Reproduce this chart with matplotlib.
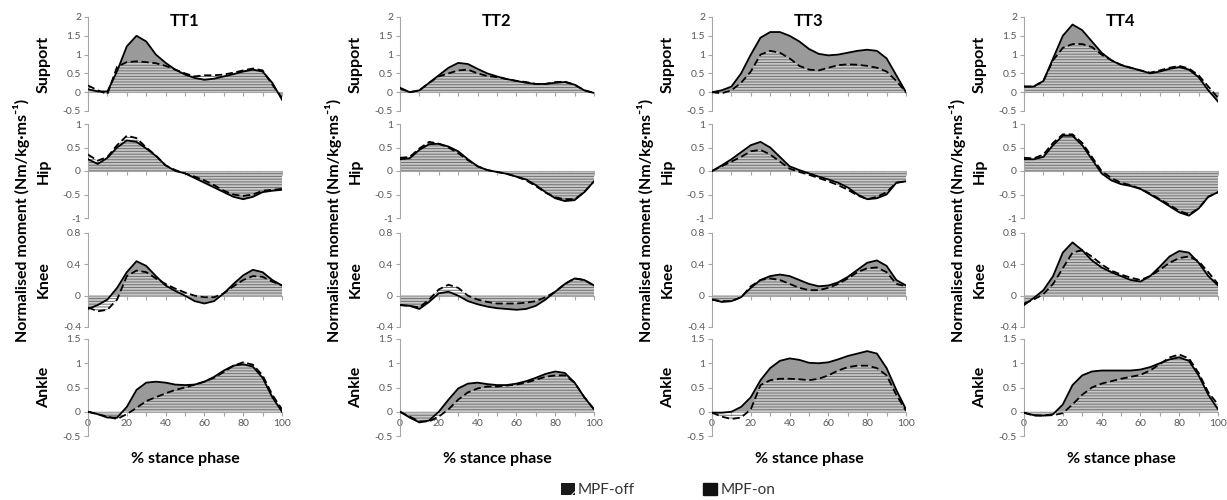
import numpy as np
import matplotlib
matplotlib.use("Agg")
from matplotlib import pyplot as plt
from matplotlib.patches import Patch

plt.rcParams['font.family'] = ['Lato', 'DejaVu Sans']
plt.rcParams['hatch.linewidth'] = 0.7

# % stance phase
pct = [0, 5, 10, 15, 20, 25, 30, 35, 40, 45, 50, 55, 60, 65, 70, 75, 80, 85, 90, 95, 100]

# TT1
tt1_support_on = [0.08, 0.02, 0.02, 0.56, 1.22, 1.50, 1.35, 1.00, 0.78, 0.60, 0.47, 0.38, 0.33, 0.36, 0.42, 0.48, 0.55, 0.60, 0.55, 0.25, -0.20]
tt1_support_off = [0.18, 0.05, -0.05, 0.68, 0.80, 0.82, 0.80, 0.77, 0.70, 0.60, 0.50, 0.42, 0.45, 0.45, 0.47, 0.52, 0.58, 0.63, 0.58, 0.20, -0.15]
tt1_hip_on = [0.25, 0.15, 0.28, 0.50, 0.65, 0.62, 0.48, 0.32, 0.12, 0.00, -0.05, -0.15, -0.25, -0.35, -0.45, -0.55, -0.60, -0.55, -0.45, -0.42, -0.40]
tt1_hip_off = [0.35, 0.22, 0.30, 0.55, 0.75, 0.70, 0.50, 0.33, 0.12, 0.02, -0.05, -0.12, -0.20, -0.30, -0.42, -0.50, -0.53, -0.50, -0.42, -0.40, -0.38]
tt1_knee_on = [-0.17, -0.12, -0.05, 0.10, 0.30, 0.44, 0.38, 0.25, 0.13, 0.06, 0.00, -0.07, -0.10, -0.07, 0.03, 0.15, 0.26, 0.33, 0.30, 0.20, 0.13]
tt1_knee_off = [-0.15, -0.20, -0.18, -0.05, 0.25, 0.32, 0.30, 0.22, 0.15, 0.09, 0.04, 0.00, -0.02, -0.02, 0.03, 0.12, 0.20, 0.25, 0.24, 0.18, 0.13]
tt1_ankle_on = [0.00, -0.05, -0.12, -0.12, 0.10, 0.45, 0.60, 0.62, 0.60, 0.56, 0.55, 0.56, 0.62, 0.72, 0.85, 0.95, 0.98, 0.93, 0.70, 0.30, 0.00]
tt1_ankle_off = [0.00, -0.05, -0.10, -0.15, -0.05, 0.08, 0.22, 0.30, 0.38, 0.45, 0.50, 0.56, 0.62, 0.70, 0.82, 0.95, 1.02, 0.97, 0.75, 0.35, 0.05]

# TT2
tt2_support_on = [0.12, 0.00, 0.05, 0.25, 0.45, 0.65, 0.78, 0.75, 0.62, 0.50, 0.42, 0.35, 0.30, 0.25, 0.22, 0.22, 0.25, 0.27, 0.20, 0.05, -0.02]
tt2_support_off = [0.10, 0.00, 0.05, 0.25, 0.42, 0.50, 0.58, 0.60, 0.50, 0.43, 0.40, 0.35, 0.30, 0.27, 0.22, 0.22, 0.27, 0.28, 0.20, 0.05, -0.02]
tt2_hip_on = [0.25, 0.27, 0.45, 0.57, 0.58, 0.52, 0.42, 0.25, 0.10, 0.02, -0.02, -0.06, -0.12, -0.18, -0.30, -0.45, -0.58, -0.64, -0.62, -0.45, -0.22]
tt2_hip_off = [0.28, 0.30, 0.48, 0.62, 0.58, 0.50, 0.38, 0.23, 0.10, 0.02, -0.02, -0.06, -0.12, -0.20, -0.32, -0.46, -0.56, -0.60, -0.60, -0.45, -0.22]
tt2_knee_on = [-0.12, -0.13, -0.17, -0.08, 0.03, 0.05, 0.00, -0.07, -0.11, -0.14, -0.16, -0.17, -0.18, -0.17, -0.13, -0.05, 0.05, 0.15, 0.22, 0.20, 0.13]
tt2_knee_off = [-0.12, -0.13, -0.15, -0.05, 0.08, 0.14, 0.10, 0.00, -0.05, -0.08, -0.10, -0.10, -0.10, -0.09, -0.07, -0.02, 0.05, 0.15, 0.22, 0.20, 0.13]
tt2_ankle_on = [0.00, -0.12, -0.22, -0.18, 0.00, 0.25, 0.48, 0.58, 0.60, 0.57, 0.55, 0.55, 0.58, 0.63, 0.70, 0.78, 0.83, 0.80, 0.60, 0.30, 0.05]
tt2_ankle_off = [0.00, -0.10, -0.20, -0.20, -0.10, 0.05, 0.25, 0.40, 0.48, 0.52, 0.52, 0.54, 0.56, 0.60, 0.66, 0.72, 0.75, 0.75, 0.60, 0.30, 0.05]

# TT3
tt3_support_on = [0.00, 0.05, 0.15, 0.50, 1.00, 1.45, 1.60, 1.60, 1.50, 1.35, 1.15, 1.02, 0.98, 1.00, 1.05, 1.10, 1.13, 1.10, 0.90, 0.45, 0.00]
tt3_support_off = [0.00, -0.03, 0.05, 0.25, 0.55, 1.00, 1.10, 1.05, 0.90, 0.70, 0.60, 0.58, 0.65, 0.72, 0.74, 0.73, 0.70, 0.65, 0.55, 0.30, 0.00]
tt3_hip_on = [0.00, 0.12, 0.25, 0.40, 0.55, 0.62, 0.50, 0.30, 0.10, 0.02, -0.05, -0.12, -0.18, -0.25, -0.35, -0.50, -0.60, -0.58, -0.50, -0.25, -0.22]
tt3_hip_off = [0.00, 0.10, 0.20, 0.30, 0.42, 0.45, 0.35, 0.20, 0.05, -0.02, -0.08, -0.15, -0.22, -0.30, -0.40, -0.52, -0.60, -0.55, -0.45, -0.25, -0.22]
tt3_knee_on = [-0.05, -0.08, -0.07, -0.02, 0.10, 0.20, 0.25, 0.27, 0.25, 0.20, 0.15, 0.12, 0.13, 0.17, 0.24, 0.33, 0.42, 0.45, 0.38, 0.20, 0.13]
tt3_knee_off = [-0.05, -0.07, -0.07, -0.02, 0.12, 0.20, 0.22, 0.20, 0.15, 0.10, 0.07, 0.07, 0.10, 0.15, 0.22, 0.30, 0.35, 0.36, 0.30, 0.15, 0.12]
tt3_ankle_on = [-0.02, -0.02, 0.00, 0.10, 0.30, 0.65, 0.90, 1.05, 1.10, 1.07, 1.01, 1.00, 1.02, 1.08, 1.15, 1.20, 1.25, 1.20, 0.90, 0.45, 0.05]
tt3_ankle_off = [-0.02, -0.10, -0.15, -0.12, 0.05, 0.55, 0.65, 0.68, 0.68, 0.67, 0.65, 0.68, 0.75, 0.85, 0.92, 0.95, 0.95, 0.90, 0.75, 0.35, 0.02]

# TT4
tt4_support_on = [0.15, 0.15, 0.30, 0.90, 1.50, 1.80, 1.65, 1.35, 1.05, 0.85, 0.72, 0.65, 0.58, 0.50, 0.55, 0.62, 0.67, 0.60, 0.40, 0.05, -0.25]
tt4_support_off = [0.15, 0.15, 0.30, 0.85, 1.18, 1.28, 1.28, 1.20, 1.00, 0.85, 0.73, 0.65, 0.58, 0.52, 0.58, 0.65, 0.70, 0.63, 0.45, 0.15, -0.15]
tt4_hip_on = [0.25, 0.25, 0.30, 0.55, 0.75, 0.75, 0.55, 0.25, -0.05, -0.20, -0.28, -0.32, -0.38, -0.50, -0.62, -0.75, -0.88, -0.95, -0.80, -0.55, -0.45]
tt4_hip_off = [0.28, 0.27, 0.35, 0.60, 0.78, 0.78, 0.60, 0.30, 0.00, -0.15, -0.25, -0.30, -0.38, -0.48, -0.60, -0.72, -0.85, -0.92, -0.80, -0.55, -0.45]
tt4_knee_on = [-0.12, -0.03, 0.07, 0.25, 0.55, 0.68, 0.58, 0.45, 0.36, 0.30, 0.25, 0.20, 0.18, 0.25, 0.37, 0.50, 0.57, 0.55, 0.42, 0.25, 0.13]
tt4_knee_off = [-0.10, -0.05, 0.02, 0.15, 0.35, 0.55, 0.58, 0.50, 0.40, 0.32, 0.27, 0.23, 0.20, 0.25, 0.33, 0.42, 0.48, 0.50, 0.44, 0.30, 0.15]
tt4_ankle_on = [-0.02, -0.07, -0.08, -0.05, 0.15, 0.55, 0.75, 0.83, 0.85, 0.85, 0.85, 0.85, 0.87, 0.92, 1.00, 1.08, 1.12, 1.05, 0.75, 0.35, 0.05]
tt4_ankle_off = [-0.02, -0.08, -0.08, -0.07, -0.03, 0.15, 0.35, 0.50, 0.58, 0.63, 0.68, 0.72, 0.76, 0.85, 0.98, 1.12, 1.18, 1.10, 0.80, 0.40, 0.15]

subjects = ["TT1", "TT2", "TT3", "TT4"]
rows = ["Support", "Hip", "Knee", "Ankle"]
row_ylims = [(-0.5, 2), (-1, 1), (-0.4, 0.8), (-0.5, 1.5)]
row_yticks = [[-0.5, 0, 0.5, 1, 1.5, 2], [-1, -0.5, 0, 0.5, 1], [-0.4, 0, 0.4, 0.8], [-0.5, 0, 0.5, 1, 1.5]]
row_yticklabels = [["-0.5", "0", "0.5", "1", "1.5", "2"], ["-1", "-0.5", "0", "0.5", "1"],
                   ["-0.4", "0", "0.4", "0.8"], ["-0.5", "0", "0.5", "1", "1.5"]]
xticks = [0, 10, 20, 30, 40, 50, 60, 70, 80, 90, 100]
xticklabels = ["0", "", "20", "", "40", "", "60", "", "80", "", "100"]

series = {
    "TT1": [(tt1_support_on, tt1_support_off), (tt1_hip_on, tt1_hip_off), (tt1_knee_on, tt1_knee_off), (tt1_ankle_on, tt1_ankle_off)],
    "TT2": [(tt2_support_on, tt2_support_off), (tt2_hip_on, tt2_hip_off), (tt2_knee_on, tt2_knee_off), (tt2_ankle_on, tt2_ankle_off)],
    "TT3": [(tt3_support_on, tt3_support_off), (tt3_hip_on, tt3_hip_off), (tt3_knee_on, tt3_knee_off), (tt3_ankle_on, tt3_ankle_off)],
    "TT4": [(tt4_support_on, tt4_support_off), (tt4_hip_on, tt4_hip_off), (tt4_knee_on, tt4_knee_off), (tt4_ankle_on, tt4_ankle_off)],
}

W, H = 1227, 500
fig = plt.figure(figsize=(W / 100, H / 100), dpi=100)

# panel boxes in pixels (top, bottom)
row_px = [(17, 111), (124, 218), (233, 327), (339, 436)]
col_left = [88, 400, 712, 1024]
col_w = 194

grey_txt = '#595959'
grey_ax = '#a6a6a6'

for j, name in enumerate(subjects):
    for i, row in enumerate(rows):
        top, bot = row_px[i]
        ax = fig.add_axes([col_left[j] / W, 1 - bot / H, col_w / W, (bot - top) / H])
        on, off = series[name][i]
        x = np.array(pct)
        ax.fill_between(x, on, 0, facecolor='#9a9a9a', linewidth=0, zorder=1)
        ax.fill_between(x, off, 0, facecolor=(1, 1, 1, 0.45), hatch='------',
                        edgecolor='#707070', linewidth=0, zorder=2)
        ax.plot(x, on, color='black', lw=1.3, zorder=4)
        ax.plot(x, off, color='black', lw=1.3, dashes=(4, 2), zorder=4)

        ax.set_xlim(0, 100)
        ax.set_ylim(*row_ylims[i])
        ax.set_yticks(row_yticks[i])
        ax.set_yticklabels(row_yticklabels[i])
        ax.set_xticks(xticks)
        if i == 3:
            ax.set_xticklabels(xticklabels)
            ax.text(0.5, -0.24, "% stance phase", transform=ax.transAxes, ha='center', va='center',
                    fontsize=11.5, fontweight='bold')
        else:
            ax.set_xticklabels([])

        for s in ['top', 'right']:
            ax.spines[s].set_visible(False)
        ax.spines['bottom'].set_position(('data', 0))
        ax.spines['bottom'].set_color(grey_ax)
        ax.spines['left'].set_color(grey_ax)
        ax.spines['bottom'].set_zorder(3)
        ax.tick_params(axis='both', colors=grey_ax, labelcolor=grey_txt, labelsize=7.5,
                       length=3, width=0.8, direction='out', pad=2)
        ax.patch.set_alpha(0)

        ax.set_ylabel(row, fontsize=11.5, fontweight='bold')
        ax.yaxis.set_label_coords(-37 / col_w, 0.5)

        if i == 0:
            ax.text(0.5, 0.957, name, transform=ax.transAxes, ha='center', va='center',
                    fontsize=12, fontweight='bold')

    fig.text((col_left[j] - 66) / W, 1 - 220 / H, "Normalised moment (Nm/kg\u00b7ms\u207b\u00b9)",
             rotation=90, ha='center', va='center', fontsize=11.5, fontweight='bold')

handles = [Patch(facecolor='#1a1a1a', edgecolor='white', hatch='/', linewidth=0, label='MPF-off'),
           Patch(facecolor='#111111', edgecolor='#111111', label='MPF-on')]
fig.legend(handles=handles, loc='center', bbox_to_anchor=(668 / W, 1 - 490 / H), ncol=2,
           frameon=False, fontsize=11, handlelength=0.9, handleheight=0.9, handletextpad=0.2,
           columnspacing=4.5, labelcolor='#333333')

fig.savefig("out.png", dpi=100)
